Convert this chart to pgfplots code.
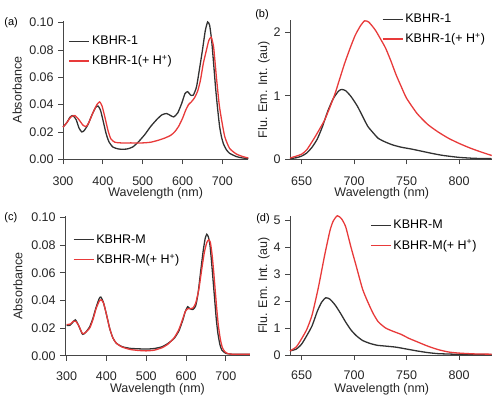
\documentclass[border=0pt]{standalone}
\usepackage{pgfplots}
\pgfplotsset{compat=1.18}
\usepackage{fontspec}
\setmainfont{Liberation Sans}
\definecolor{cblk}{RGB}{50,50,50}
\definecolor{cred}{RGB}{232,58,58}
\definecolor{caxis}{RGB}{70,70,70}
\pgfplotsset{
  panel/.style={
    scale only axis, anchor=south west,
    axis x line*=bottom, axis y line*=left,
    axis line style={line width=0.9pt, color=caxis},
    every tick/.style={line width=0.9pt, color=caxis},
    tick align=outside, major tick length=5pt,
    minor tick num=0,
    /pgf/number format/assume math mode=true,
    tick label style={font=\fontsize{12.5}{14}\selectfont, color=black!85},
    label style={font=\fontsize{12.5}{14}\selectfont, color=black!85},
    xlabel={Wavelength (nm)},
    clip=false,
    legend cell align=left,
    legend style={draw=none, fill=none, inner sep=0pt, row sep=5pt,
      font=\fontsize{12.5}{14}\selectfont, anchor=north west},
    legend image code/.code={\draw[#1, line width=1.4pt] (0pt,0pt) -- (20pt,0pt);},
    every axis plot/.append style={line width=1.3pt, smooth, tension=0.35},
  },
}
\begin{document}
\fontsize{12.5}{14}\selectfont
\begin{tikzpicture}
\useasboundingbox (0pt,0pt) rectangle (498pt,396pt);
% ---------------- (a)
\begin{axis}[panel, at={(63pt,236.7pt)}, width=185.3pt, height=138.7pt,
  xmin=300, xmax=765, ymin=0, ymax=0.1015,
  xtick={300,400,500,600,700},
  xticklabel style={yshift=-8pt},
  ytick={0,0.02,0.04,0.06,0.08,0.10},
  yticklabel style={/pgf/number format/fixed, /pgf/number format/fixed zerofill, /pgf/number format/precision=2},
  ylabel={Absorbance},
  ylabel style={at={(axis description cs:-0.248,0.5)}, anchor=center},
  xlabel style={at={(axis description cs:0.5,0)}, anchor=center, yshift=-34pt},
  legend style={at={(axis description cs:0.03,0.905)}},
]
\addplot[cblk] coordinates {
(300,0.0235)(310,0.027)(318,0.031)(325,0.032)(333,0.029)(340,0.023)(347,0.020)(353,0.021)(362,0.025)(372,0.032)(382,0.038)(388,0.039)(394,0.036)(400,0.029)(408,0.019)(415,0.013)(425,0.009)(440,0.0075)(460,0.0075)(475,0.009)(490,0.013)(505,0.018)(520,0.024)(535,0.029)(548,0.0325)(560,0.0335)(570,0.032)(578,0.031)(588,0.034)(598,0.041)(606,0.048)(613,0.0495)(620,0.047)(627,0.047)(635,0.053)(643,0.067)(650,0.080)(657,0.094)(663,0.1005)(668,0.098)(673,0.087)(678,0.070)(683,0.052)(688,0.037)(693,0.024)(698,0.016)(703,0.011)(710,0.007)(718,0.0044)(735,0.002)(750,0.001)(765,0.0005)};
\addlegendentry{KBHR-1}
\addplot[cred] coordinates {
(300,0.0235)(310,0.027)(320,0.031)(330,0.032)(340,0.029)(350,0.025)(358,0.024)(365,0.027)(375,0.034)(385,0.040)(392,0.042)(398,0.039)(405,0.031)(413,0.021)(420,0.015)(430,0.0125)(445,0.012)(470,0.012)(500,0.012)(520,0.0125)(540,0.014)(555,0.0155)(570,0.0175)(580,0.020)(590,0.024)(600,0.030)(608,0.036)(615,0.040)(622,0.042)(630,0.045)(638,0.050)(645,0.058)(652,0.070)(660,0.080)(666,0.087)(672,0.0893)(678,0.082)(685,0.060)(692,0.040)(698,0.0288)(706,0.0165)(718,0.008)(735,0.0039)(752,0.0019)(765,0.001)};
\addlegendentry{KBHR-1(+ H\textsuperscript{+})}
\end{axis}
% ---------------- (b)
\begin{axis}[panel, at={(290pt,236.7pt)}, width=201.7pt, height=139.1pt,
  xmin=639, xmax=831, ymin=0, ymax=2.19,
  xtick={650,700,750,800}, ytick={0,1,2},
  xticklabel style={yshift=-8pt},
  ylabel={Flu. Em. Int. (au)},
  ylabel style={at={(axis description cs:-0.129,0.5)}, anchor=center},
  xlabel style={at={(axis description cs:0.455,0)}, anchor=center, yshift=-34pt},
  legend style={at={(axis description cs:0.455,1.06)}},
]
\addplot[cblk] coordinates {
(639,0.01)(645,0.025)(650,0.05)(655,0.10)(660,0.19)(665,0.32)(670,0.52)(675,0.76)(680,0.95)(685,1.07)(688,1.10)(692,1.08)(697,0.99)(703,0.84)(708,0.68)(713,0.52)(718,0.42)(723,0.33)(730,0.27)(737,0.225)(745,0.19)(755,0.16)(765,0.125)(775,0.09)(785,0.06)(800,0.03)(815,0.015)(831,0.01)};
\addlegendentry{KBHR-1}
\addplot[cred] coordinates {
(639,0.02)(645,0.05)(650,0.08)(655,0.15)(662,0.33)(667,0.47)(672,0.62)(677,0.82)(682,1.04)(686,1.25)(691,1.51)(696,1.74)(701,1.95)(706,2.10)(710,2.18)(714,2.16)(720,2.04)(725,1.90)(730,1.75)(735,1.55)(740,1.33)(745,1.14)(750,0.96)(760,0.72)(770,0.55)(780,0.43)(790,0.33)(800,0.25)(810,0.18)(820,0.12)(831,0.06)};
\addlegendentry{KBHR-1(+ H\textsuperscript{+})}
\end{axis}
% ---------------- (c)
\begin{axis}[panel, at={(65pt,40.3pt)}, width=185pt, height=139.4pt,
  xmin=296, xmax=760.5, ymin=0, ymax=0.101,
  xtick={300,400,500,600,700},
  xticklabel style={yshift=-6.5pt},
  ytick={0,0.02,0.04,0.06,0.08,0.10},
  yticklabel style={/pgf/number format/fixed, /pgf/number format/fixed zerofill, /pgf/number format/precision=2},
  ylabel={Absorbance},
  ylabel style={at={(axis description cs:-0.254,0.5)}, anchor=center},
  xlabel style={at={(axis description cs:0.5,0)}, anchor=center, yshift=-34pt},
  legend style={at={(axis description cs:0.042,0.885)}},
]
\addplot[cblk] coordinates {
(300,0.022)(308,0.022)(315,0.024)(322,0.026)(330,0.022)(340,0.0155)(348,0.017)(358,0.021)(366,0.027)(374,0.035)(382,0.0415)(386,0.0425)(392,0.039)(400,0.030)(408,0.020)(416,0.013)(425,0.009)(440,0.0065)(460,0.0053)(480,0.005)(500,0.0048)(520,0.0052)(540,0.0065)(555,0.009)(570,0.0125)(582,0.018)(592,0.026)(598,0.032)(604,0.0355)(610,0.034)(617,0.0335)(624,0.036)(630,0.045)(637,0.062)(643,0.076)(648,0.085)(652,0.088)(656,0.086)(660,0.080)(664,0.068)(668,0.054)(672,0.040)(676,0.026)(680,0.016)(685,0.008)(690,0.004)(700,0.0017)(720,0.001)(760,0.001)};
\addlegendentry{KBHR-M}
\addplot[cred] coordinates {
(300,0.0225)(310,0.023)(317,0.025)(323,0.025)(330,0.022)(340,0.016)(348,0.017)(358,0.020)(366,0.026)(374,0.034)(382,0.0395)(387,0.0405)(393,0.038)(400,0.030)(408,0.020)(416,0.013)(425,0.009)(440,0.0062)(460,0.0045)(480,0.0038)(500,0.0035)(520,0.004)(540,0.0058)(555,0.0085)(570,0.013)(582,0.019)(592,0.027)(598,0.032)(604,0.034)(610,0.034)(617,0.0345)(624,0.038)(632,0.048)(640,0.064)(646,0.075)(652,0.082)(657,0.084)(661,0.082)(665,0.074)(669,0.062)(673,0.048)(677,0.034)(681,0.022)(686,0.012)(691,0.006)(697,0.003)(705,0.0015)(720,0.001)(760,0.001)};
\addlegendentry{KBHR-M(+ H\textsuperscript{+})}
\end{axis}
% ---------------- (d)
\begin{axis}[panel, at={(290pt,41pt)}, width=201.7pt, height=139pt,
  xmin=639, xmax=831, ymin=0, ymax=5.15,
  xtick={650,700,750,800}, ytick={0,1,2,3,4,5},
  xticklabel style={yshift=-6.5pt},
  ylabel={Flu. Em. Int. (au)},
  ylabel style={at={(axis description cs:-0.129,0.5)}, anchor=center},
  xlabel style={at={(axis description cs:0.455,0)}, anchor=center, yshift=-34pt},
  legend style={at={(axis description cs:0.396,0.985)}},
]
\addplot[cblk] coordinates {
(639,0.15)(645,0.22)(650,0.4)(655,0.72)(660,1.08)(665,1.62)(669,1.95)(673,2.12)(677,2.07)(682,1.85)(687,1.55)(692,1.22)(697,0.93)(702,0.72)(708,0.54)(715,0.43)(722,0.36)(730,0.33)(740,0.29)(750,0.22)(760,0.15)(770,0.09)(780,0.05)(795,0.03)(810,0.02)(831,0.02)};
\addlegendentry{KBHR-M}
\addplot[cred] coordinates {
(639,0.15)(645,0.3)(650,0.6)(655,0.95)(660,1.48)(666,2.5)(672,3.7)(677,4.6)(680,4.95)(684,5.16)(688,5.05)(692,4.75)(697,4.0)(702,3.3)(708,2.45)(713,1.97)(718,1.55)(723,1.23)(730,1.0)(737,0.88)(745,0.76)(752,0.62)(760,0.49)(770,0.33)(780,0.2)(790,0.11)(800,0.07)(815,0.04)(831,0.03)};
\addlegendentry{KBHR-M(+ H\textsuperscript{+})}
\end{axis}
% panel letters
\node[anchor=west, font=\fontsize{11}{13}\selectfont] at (0pt,373pt) {(a)};
\node[anchor=center, font=\fontsize{11}{13}\selectfont] at (262pt,381pt) {(b)};
\node[anchor=west, font=\fontsize{11}{13}\selectfont] at (0pt,178.3pt) {(c)};
\node[anchor=center, font=\fontsize{11}{13}\selectfont] at (263pt,177.7pt) {(d)};
\end{tikzpicture}
\end{document}
